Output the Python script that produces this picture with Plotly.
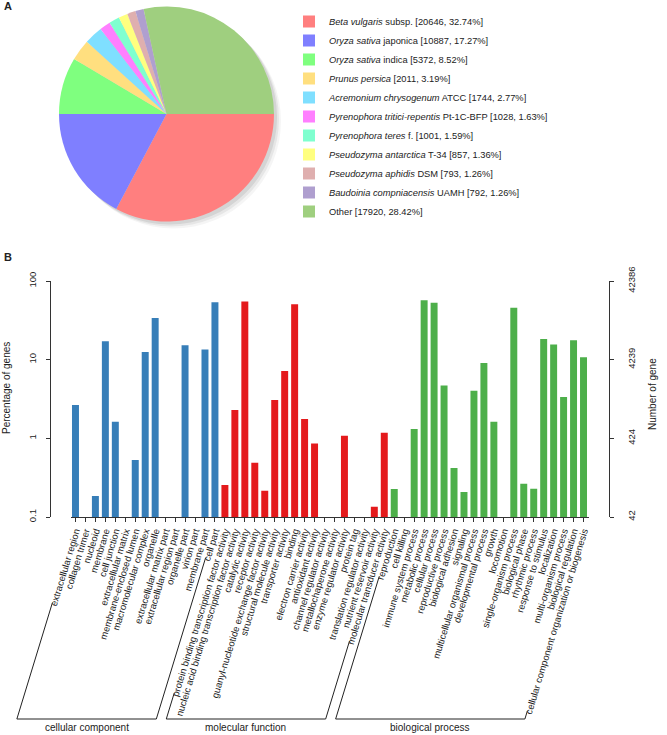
import math
import plotly.graph_objects as go

W, H = 667, 735

# ---------------- Panel A data ----------------
species_names = [
    "<i>Beta vulgaris</i> subsp.",
    "<i>Oryza sativa</i> japonica",
    "<i>Oryza sativa</i> indica",
    "<i>Prunus persica</i>",
    "<i>Acremonium chrysogenum</i> ATCC",
    "<i>Pyrenophora tritici-repentis</i> Pt-1C-BFP",
    "<i>Pyrenophora teres</i> f.",
    "<i>Pseudozyma antarctica</i> T-34",
    "<i>Pseudozyma aphidis</i> DSM",
    "<i>Baudoinia compniacensis</i> UAMH",
    "Other",
]
species_counts = [20646, 10887, 5372, 2011, 1744, 1028, 1001, 857, 793, 792, 17920]
species_pct = ["32.74%", "17.27%", "8.52%", "3.19%", "2.77%", "1.63%", "1.59%",
               "1.36%", "1.26%", "1.26%", "28.42%"]
species_colors = ["#FF7F7F", "#7F7FFF", "#7FFF7F", "#FFDF7F", "#7FDFFF", "#FF7FFF",
                  "#7FFFCF", "#FFFF7F", "#DFAFAF", "#AF9FCF", "#9FCF7F"]

# ---------------- Panel B data ----------------
cc_terms = ["extracellular region", "collagen trimer", "nucleoid", "membrane", "cell junction",
            "extracellular matrix", "membrane-enclosed lumen", "macromolecular complex",
            "organelle", "extracellular matrix part", "extracellular region part",
            "organelle part", "virion part", "membrane part", "cell part"]
cc_pct = [2.65, None, 0.185, 17.1, 1.63, None, 0.53, 12.5, 33.8, None, None, 15.2, None, 13.5, 53.5]

mf_terms = ["protein binding transcription factor activity",
            "nucleic acid binding transcription factor activity", "catalytic activity",
            "receptor activity", "guanyl-nucleotide exchange factor activity",
            "structural molecule activity", "transporter activity", "binding",
            "electron carrier activity", "antioxidant activity", "channel regulator activity",
            "metallochaperone activity", "enzyme regulator activity", "protein tag",
            "translation regulator activity", "nutrient reservoir activity",
            "molecular transducer activity"]
mf_pct = [0.255, 2.29, 55.0, 0.49, 0.216, 3.07, 7.16, 50.5, 1.76, 0.86, None, None, 1.08,
          None, None, 0.135, 1.18]

bp_terms = ["reproduction", "cell killing", "immune system process", "metabolic process",
            "cellular process", "reproductive process", "biological adhesion", "signaling",
            "multicellular organismal process", "developmental process", "growth",
            "locomotion", "single-organism process", "biological phase", "rhythmic process",
            "response to stimulus", "localization", "multi-organism process",
            "biological regulation", "cellular component organization or biogenesis"]
bp_pct = [0.227, None, 1.31, 57.0, 52.8, 4.71, 0.42, 0.208, 4.03, 9.05, 1.63, None, 45.7,
          0.265, 0.229, 18.3, 15.6, 3.35, 17.6, 10.7]

group_names = ["cellular component", "molecular function", "biological process"]
group_colors = ["#377EB8", "#E41A1C", "#4DAF4A"]

total_genes = 42386
pct_ticks = [0.1, 1, 10, 100]

# ---------------- layout constants (px) ----------------
FONT = "Liberation Sans, Arial, Helvetica, sans-serif"
X_LEFT, X_RIGHT = 70.5, 588.5
Y_TOP, Y_BOT = 281, 517
YAX_X, Y2AX_X = 50, 609
TICK_FS = 9.5
ANG = 73.0
BRACKET_Y = 719
PIE_X0, PIE_X1, PIE_Y0, PIE_Y1 = 59, 274, 6.5, 221.5

def px(x):
    return x / W

def py(y):
    return 1 - y / H

groups = [(cc_terms, cc_pct), (mf_terms, mf_pct), (bp_terms, bp_pct)]
all_terms, all_pct, all_colors, group_idx = [], [], [], []
for g, (terms, vals) in enumerate(groups):
    all_terms += terms
    all_pct += vals
    all_colors += [group_colors[g]] * len(terms)
    group_idx.append((len(all_terms) - len(terms), len(all_terms) - 1))

fig = go.Figure()

# soft drop shadow behind the pie (faint offset discs)
for off, alpha in [(7, 0.04), (5, 0.06), (3, 0.08)]:
    fig.add_trace(go.Pie(
        labels=["shadow"], values=[sum(species_counts)],
        marker=dict(colors=[f"rgba(0,0,0,{alpha})"], line=dict(width=0)),
        textinfo="none", hoverinfo="skip", showlegend=False, sort=False,
        domain=dict(x=[px(PIE_X0 + off), px(PIE_X1 + off)],
                    y=[py(PIE_Y1 + off), py(PIE_Y0 + off)]),
    ))

# Pie
fig.add_trace(go.Pie(
    labels=[f"{n} [{c}, {p}]" for n, c, p in zip(species_names, species_counts, species_pct)],
    values=species_counts,
    marker=dict(colors=species_colors, line=dict(width=0)),
    sort=False, direction="clockwise", rotation=90,
    textinfo="none", hoverinfo="label",
    domain=dict(x=[px(PIE_X0), px(PIE_X1)], y=[py(PIE_Y1), py(PIE_Y0)]),
    showlegend=True,
))

# Bars
fig.add_trace(go.Bar(
    x=all_terms, y=all_pct, marker=dict(color=all_colors, line=dict(width=0)),
    width=0.7, showlegend=False, hoverinfo="x+y",
))
# invisible trace to carry the right axis
fig.add_trace(go.Scatter(x=[all_terms[0]], y=[1], yaxis="y2", mode="markers",
                         marker=dict(opacity=0), showlegend=False, hoverinfo="skip"))

axis_common = dict(showline=True, linecolor="#333", linewidth=1, ticks="outside",
                   ticklen=4, tickcolor="#333", showgrid=False, zeroline=False,
                   automargin=False)

fig.update_layout(
    width=W, height=H,
    margin=dict(l=0, r=0, t=0, b=0),
    paper_bgcolor="white", plot_bgcolor="white",
    font=dict(family=FONT, color="#222"),
    xaxis=dict(domain=[px(X_LEFT), px(X_RIGHT)], type="category",
               categoryorder="array", categoryarray=all_terms,
               tickmode="array", tickvals=all_terms, ticktext=all_terms,
               range=[-0.5, len(all_terms) - 0.5], tickangle=-ANG,
               tickfont=dict(size=TICK_FS), anchor="y", **axis_common),
    yaxis=dict(domain=[py(Y_BOT), py(Y_TOP)], type="log", range=[-1, 2],
               tickvals=pct_ticks, ticktext=["0.1", "1", "10", "100"],
               tickangle=-90, tickfont=dict(size=TICK_FS), anchor="free",
               position=px(YAX_X), ticklabelstandoff=6, **axis_common),
    yaxis2=dict(type="log", range=[-1, 2], overlaying="y", side="right",
                anchor="free", position=px(Y2AX_X),
                tickvals=pct_ticks,
                ticktext=[str(round(total_genes * p / 100)) for p in pct_ticks],
                tickangle=-90, tickfont=dict(size=TICK_FS), ticklabelstandoff=10,
                **axis_common),
    legend=dict(x=px(289), xanchor="left", y=py(7), yanchor="top",
                font=dict(size=9.3, family=FONT, color="#222"),
                bgcolor="rgba(0,0,0,0)", traceorder="normal"),
    bargap=0.3,
)

# Axis titles and panel letters
ann = [
    dict(x=px(6), y=py(388), text="Percentage of genes", textangle=-90, font=dict(size=10)),
    dict(x=px(653), y=py(394), text="Number of gene", textangle=-90, font=dict(size=10)),
    dict(x=px(2), y=py(6), text="<b>A</b>", font=dict(size=11), xanchor="left"),
    dict(x=px(2), y=py(257), text="<b>B</b>", font=dict(size=11), xanchor="left"),
]

# Group brackets, following the slant of the rotated tick labels
CW = {c: 0.5 for c in "abcdefghijklmnopqrstuvwxyz"}
CW.update({"a": .556, "b": .556, "c": .5, "d": .556, "e": .556, "f": .278, "g": .556,
           "h": .556, "i": .222, "j": .222, "k": .5, "l": .222, "m": .833, "n": .556,
           "o": .556, "p": .556, "q": .556, "r": .333, "s": .5, "t": .278, "u": .556,
           "v": .5, "w": .722, "x": .5, "y": .5, "z": .5, " ": .278, "-": .333})

def text_len(s):
    return TICK_FS * sum(CW.get(ch, 0.5) for ch in s)

pitch = (X_RIGHT - X_LEFT) / len(all_terms)
ca, sa = math.cos(math.radians(ANG)), math.sin(math.radians(ANG))
end_y = Y_BOT + 7
shapes = []

def slant_line(i):
    L = text_len(all_terms[i]) + 2
    xc = X_LEFT + pitch * (i + 0.5) + 1
    x0, y0 = xc - L * ca, end_y + L * sa
    x1 = x0 - (BRACKET_Y - y0) * ca / sa
    return (x0, y0, x1)

for g, (a, b) in enumerate(group_idx):
    xa0, ya0, xa1 = slant_line(a)
    xb0, yb0, xb1 = slant_line(b)
    path = (f"M {px(xa0)},{py(ya0)} L {px(xa1)},{py(BRACKET_Y)} "
            f"L {px(xb1)},{py(BRACKET_Y)} L {px(xb0)},{py(yb0)}")
    shapes.append(dict(type="path", xref="paper", yref="paper", path=path,
                       line=dict(color="#222", width=1)))
    ann.append(dict(x=px((xa1 + xb1) / 2), y=py(727), text=group_names[g],
                    font=dict(size=10)))

for a in ann:
    a.update(xref="paper", yref="paper", showarrow=False)
    a.setdefault("xanchor", "center")
    a.setdefault("yanchor", "middle")

fig.update_layout(annotations=ann, shapes=shapes)
fig.write_html("out.html", config={"displayModeBar": False},
               post_script="document.body.style.margin='0';")
